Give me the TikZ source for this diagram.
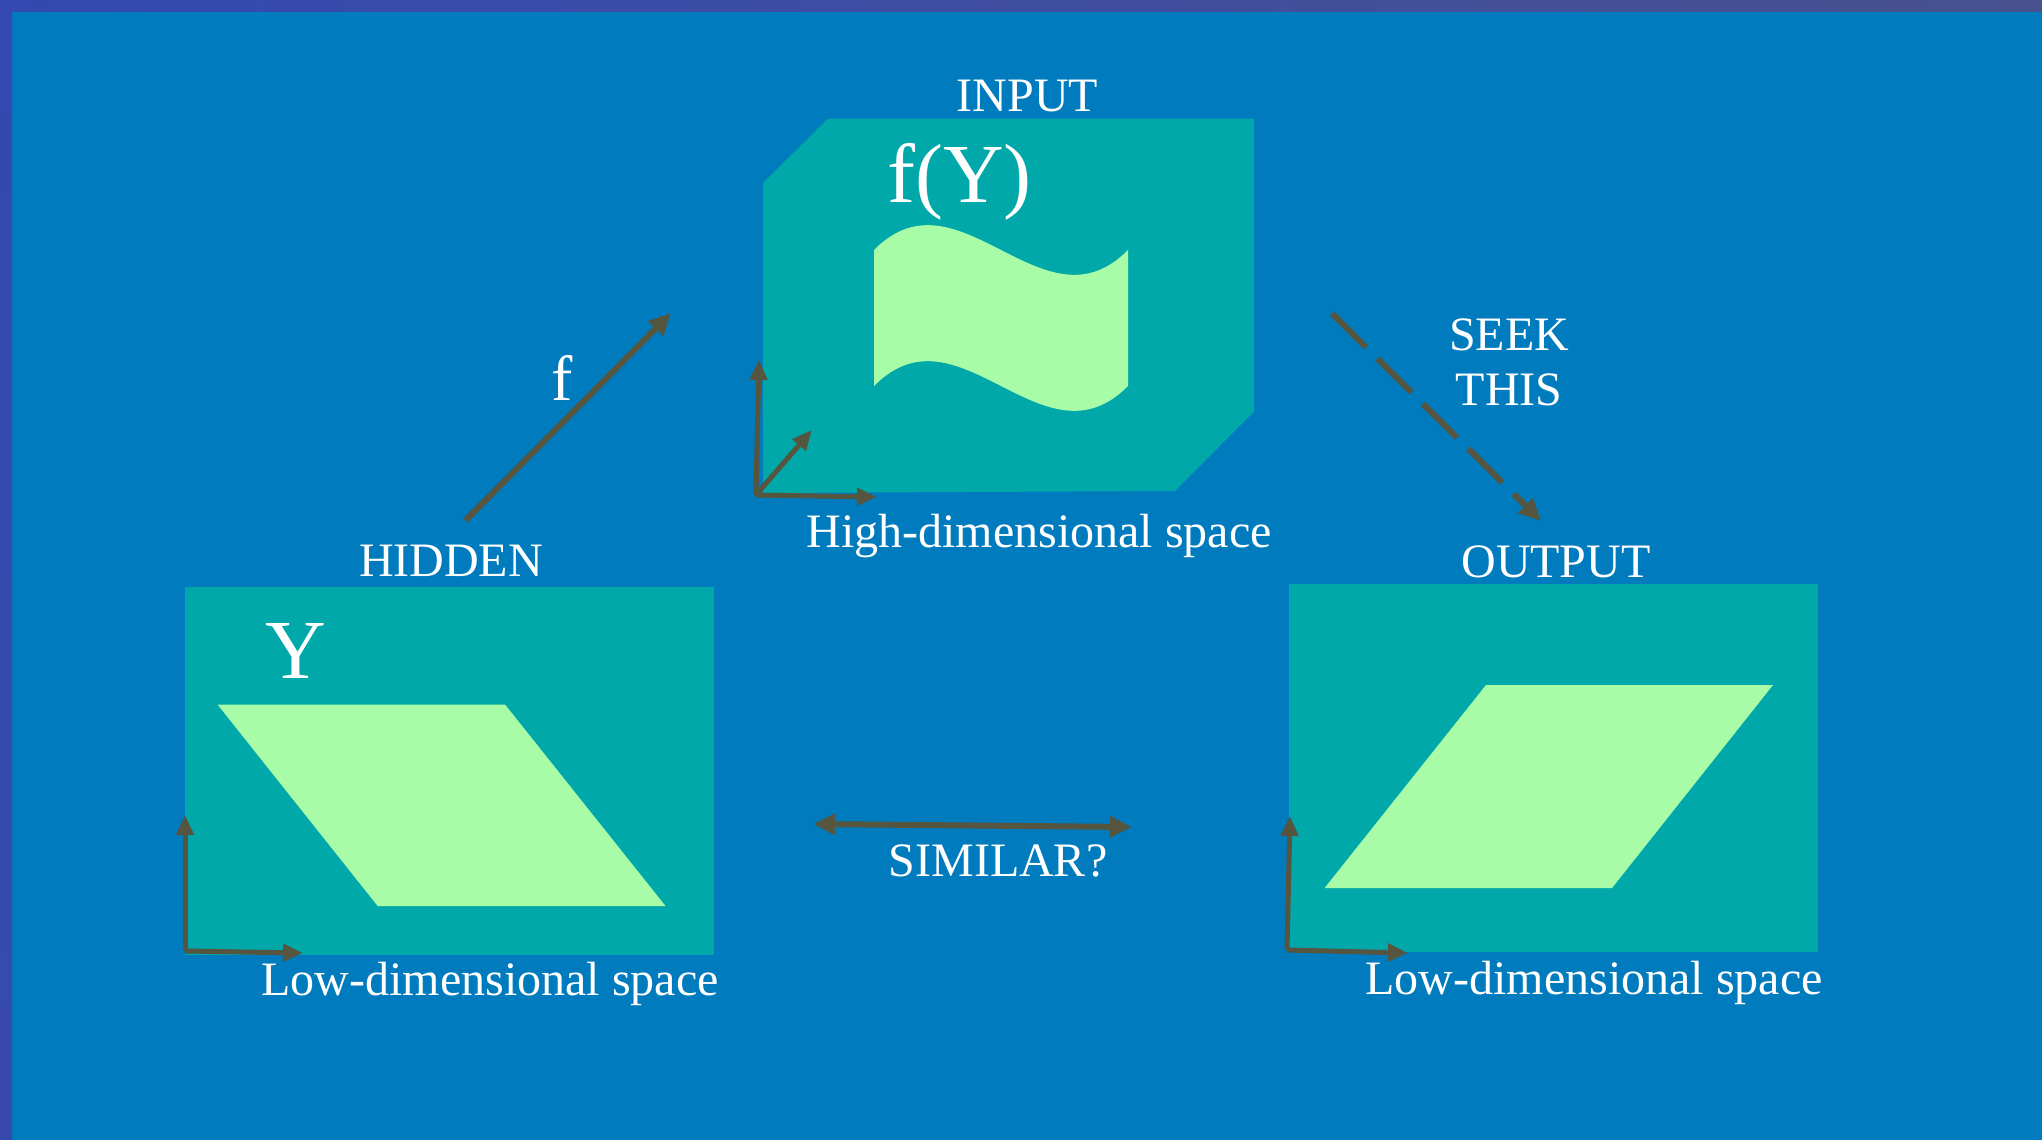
\documentclass[tikz,border=0pt]{standalone}
\usepackage{fontspec}
\setmainfont{Liberation Serif}
\usetikzlibrary{arrows.meta}
\definecolor{bgblue}{HTML}{007BBD}
\definecolor{edgeL}{HTML}{3449B1}
\definecolor{edgeR}{HTML}{48528F}
\definecolor{boxteal}{HTML}{00A8A9}
\definecolor{sheet}{HTML}{A8FCA8}
\definecolor{arrowc}{HTML}{56553F}
\begin{document}
\begin{tikzpicture}[x=1pt,y=-1pt,
  lbl/.style={text=white,inner sep=0pt,anchor=base,font=\fontsize{48}{55}\selectfont},
  big/.style={text=white,inner sep=0pt,anchor=base,font=\fontsize{84}{90}\selectfont},
  conn/.style={draw=arrowc,line width=6pt,-{Triangle[length=22pt,width=20pt]}},
  axis/.style={draw=arrowc,line width=5pt,-{Triangle[length=20pt,width=17pt]}},
  spacebox/.style={fill=boxteal},
  sheetfill/.style={fill=sheet}]
\useasboundingbox (0,0) rectangle (2042,1140);
% background and border
\fill[bgblue] (0,0) rectangle (2042,1140);
\shade[left color=edgeL,right color=edgeR] (0,0) rectangle (2042,12);
\shade[top color=edgeL,bottom color=edgeL!85!edgeR] (0,0) rectangle (12,1140);

% ---------- INPUT (high-dimensional) ----------
\path[spacebox] (763,183) -- (828,118.5) -- (1254,118.5) -- (1254,411.5) -- (1175,491) -- (763,493) -- cycle;
\path[sheetfill] (874,250) .. controls (959,164) and (1043,336) .. (1128,250)
  -- (1128,386) .. controls (1043,472) and (959,300) .. (874,386) -- cycle;
\node[big,anchor=base west] (fy) at (887,202) {f(Y)};
\node[lbl] (input) at (1027.5,111) {INPUT};
\node[lbl] (high) at (1039,547) {High-dimensional space};
\coordinate (io) at (756,495);
\coordinate (iu) at (759,360);
\coordinate (ir) at (877,497);
\coordinate (id) at (812,430);
\draw[axis] (io) -- (iu);
\draw[axis] (io) -- (ir);
\draw[axis] (io) -- (id);

% ---------- HIDDEN (low-dimensional) ----------
\path[spacebox] (185,587) rectangle (714,955);
\path[sheetfill] (217.5,704.5) -- (505,704.5) -- (665.5,906) -- (377.7,906) -- cycle;
\node[big] (y) at (296,678) {Y};
\node[lbl] (hidden) at (451,576) {HIDDEN};
\node[lbl] (lowl) at (490,995) {Low-dimensional space};
\coordinate (ho) at (185,951);
\coordinate (hu) at (185,815);
\coordinate (hr) at (303,953);
\draw[axis] (ho) -- (hu);
\draw[axis] (ho) -- (hr);

% ---------- OUTPUT (low-dimensional) ----------
\path[spacebox] (1289,584) rectangle (1817.5,951.5);
\path[sheetfill] (1486,685) -- (1773,685) -- (1612,888) -- (1324.6,888) -- cycle;
\node[lbl] (output) at (1556,577) {OUTPUT};
\node[lbl] (lowr) at (1594,994) {Low-dimensional space};
\coordinate (oo) at (1287,950);
\coordinate (ou) at (1290,816);
\coordinate (or) at (1408,953);
\draw[axis] (oo) -- (ou);
\draw[axis] (oo) -- (or);

% ---------- connectors ----------
\coordinate (fa) at (465.5,520.5);
\coordinate (fb) at (671,313);
\draw[conn] (fa) -- (fb);
\node[text=white,inner sep=0pt,anchor=base,font=\fontsize{64}{70}\selectfont] (flbl) at (562,400) {f};

\coordinate (sa) at (1332,313.5);
\coordinate (sb) at (1541,521);
\draw[conn,dash pattern=on 48pt off 16pt] (sa) -- (sb);
\node[lbl] (seek) at (1509,350) {SEEK};
\node[lbl] (this) at (1509,405) {THIS};

\coordinate (ma) at (813,824);
\coordinate (mb) at (1132,827);
\draw[draw=arrowc,line width=6pt,{Triangle[length=22pt,width=20pt]}-{Triangle[length=22pt,width=20pt]}] (ma) -- (mb);
\node[lbl] (similar) at (998,876) {SIMILAR?};
\end{tikzpicture}
\end{document}
